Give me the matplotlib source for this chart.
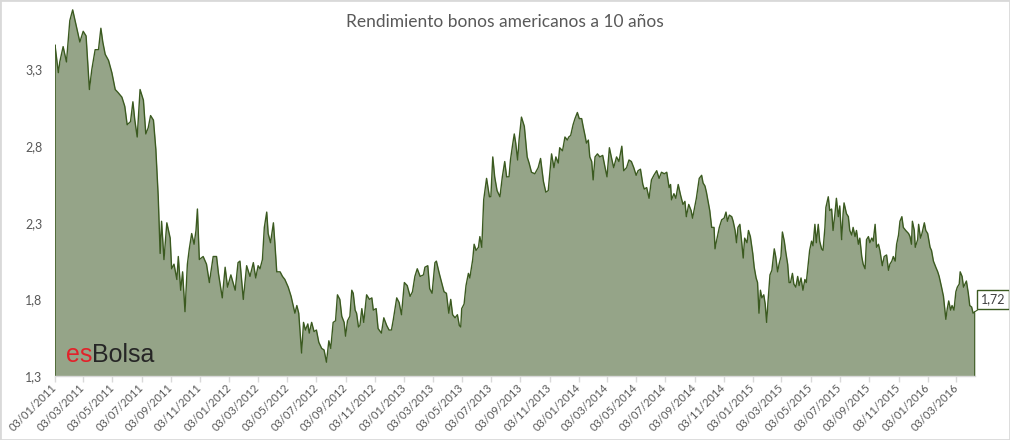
import matplotlib
matplotlib.use("Agg")
import matplotlib.pyplot as plt
import matplotlib.dates as mdates
from matplotlib.patches import Rectangle
import pandas as pd
import numpy as np

# ---- data ----
start_date = "2011-01-03"
day_offsets = [
    0, 7, 10, 17, 24, 31, 37, 42, 45, 52, 59, 65, 72, 77, 84, 91, 96, 100, 105, 112,
    119, 126, 132, 140, 146, 151, 158, 163, 167, 172, 178, 185, 190, 195, 200, 206, 211, 216, 220, 223,
    228, 234, 241, 244, 249, 255, 258, 263, 267, 272, 277, 281, 286, 291, 295, 298, 302, 310, 317, 323,
    331, 338, 342, 345, 350, 356, 361, 368, 377, 383, 387, 394, 401, 408, 415, 420, 425, 429, 434, 438,
    443, 446, 451, 457, 460, 464, 471, 476, 481, 488, 494, 499, 502, 506, 510, 516, 520, 524, 529, 532,
    537, 542, 547, 552, 558, 563, 568, 573, 577, 582, 587, 591, 596, 600, 605, 608, 612, 617, 621, 624,
    628, 631, 635, 638,
    642, 646, 652, 658, 663, 666, 672, 676, 683, 688, 694, 699, 704, 708, 711, 715, 720, 725, 731, 737,
    743, 748, 753, 758, 764, 771, 774, 780, 784, 789, 795, 798, 804, 809, 814, 819, 824, 828, 832, 837,
    842, 846, 849, 851, 856, 860, 865, 868, 874, 877, 881, 886, 889, 893, 897, 903, 909, 912, 916, 920,
    925, 931, 936, 941, 945, 950, 953, 958, 961, 964, 968, 971,
    976, 982, 988, 992, 997, 1004, 1011, 1016, 1022, 1027, 1032, 1039, 1044, 1048, 1053, 1056, 1062, 1067, 1072, 1075,
    1079, 1084, 1088, 1093, 1097, 1102, 1105, 1109, 1112, 1116, 1119, 1123, 1126, 1130, 1135, 1140, 1146, 1151, 1155, 1160,
    1164, 1169, 1175, 1180, 1186, 1190, 1196, 1201, 1206, 1211, 1216, 1220, 1225, 1230, 1233, 1238, 1243, 1248, 1253, 1259,
    1264, 1269, 1275, 1280, 1285,
    1288, 1290, 1295, 1299, 1304, 1309, 1314, 1318, 1321, 1326, 1331, 1334, 1339, 1342, 1348, 1353, 1356, 1360, 1363, 1367,
    1370, 1374, 1379, 1381, 1384, 1390, 1395, 1400, 1404, 1407, 1411, 1416, 1419, 1423, 1426, 1429, 1433, 1437, 1440, 1443,
    1448, 1451, 1455, 1460, 1463, 1467, 1470, 1473, 1476, 1479, 1483, 1486, 1489, 1492, 1496, 1500, 1505, 1508, 1512, 1515,
    1519, 1522, 1526, 1529, 1533, 1536, 1539, 1543, 1546, 1550, 1554, 1557, 1561, 1565, 1569, 1572, 1576, 1579, 1583, 1586,
    1590, 1593, 1597, 1600, 1604, 1607, 1611, 1613, 1618,
    1621, 1625, 1628, 1632, 1635, 1639, 1642, 1646, 1649, 1651, 1656, 1660, 1663, 1667, 1670, 1674, 1677, 1681, 1684, 1688,
    1691, 1695, 1698, 1702, 1705, 1709, 1712, 1716, 1719, 1723, 1726, 1731, 1735, 1740, 1744, 1747, 1751, 1754, 1758, 1761,
    1765, 1768, 1772, 1775, 1780, 1786, 1789, 1792, 1794, 1798, 1800, 1805, 1807, 1811, 1814, 1819, 1822, 1826, 1831, 1834,
    1838, 1843, 1847, 1850, 1855, 1859, 1862, 1864, 1867, 1870, 1874, 1877, 1881, 1885, 1888, 1892, 1894, 1898, 1901, 1904,
    1907, 1911, 1914, 1918, 1921, 1925,
]
yields = [
    3.46, 3.28, 3.35, 3.45, 3.35, 3.62, 3.69, 3.62, 3.58, 3.48, 3.55, 3.52, 3.17, 3.30, 3.43, 3.43, 3.57, 3.48, 3.40, 3.36,
    3.28, 3.17, 3.15, 3.12, 3.06, 2.94, 2.96, 3.09, 2.97, 2.86, 3.17, 3.10, 2.88, 2.92, 3.00, 2.97, 2.78, 2.47, 2.10, 2.31,
    2.06, 2.30, 2.20, 2.00, 2.03, 1.93, 2.08, 1.86, 1.98, 1.72, 2.03, 2.13, 2.23, 2.16, 2.25, 2.39, 2.06, 2.08, 2.03, 1.91,
    2.08, 2.08, 1.97, 1.91, 1.81, 2.01, 1.88, 1.96, 1.86, 2.04, 2.05, 1.80, 2.02, 1.95, 2.04, 1.94, 2.02, 2.00, 2.06, 2.27,
    2.37, 2.23, 2.17, 2.30, 2.17, 1.98, 1.98, 1.95, 1.93, 1.88, 1.82, 1.75, 1.71, 1.76, 1.71, 1.45, 1.65, 1.60, 1.64, 1.58,
    1.65, 1.59, 1.60, 1.52, 1.48, 1.47, 1.39, 1.53, 1.48, 1.65, 1.66, 1.83, 1.80, 1.69, 1.65, 1.56, 1.66, 1.69, 1.86, 1.84,
    1.73, 1.71, 1.62, 1.63,
    1.74, 1.65, 1.83, 1.80, 1.81, 1.73, 1.74, 1.61, 1.58, 1.68, 1.63, 1.60, 1.60, 1.67, 1.73, 1.81, 1.78, 1.70, 1.91, 1.89,
    1.82, 1.85, 1.95, 2.00, 1.95, 1.96, 2.01, 2.02, 1.87, 1.84, 2.04, 2.05, 1.97, 1.91, 1.85, 1.84, 1.71, 1.80, 1.70, 1.68,
    1.70, 1.63, 1.62, 1.74, 1.77, 1.89, 1.97, 1.94, 2.06, 2.16, 2.12, 2.14, 2.21, 2.14, 2.45, 2.59, 2.47, 2.47, 2.73, 2.60,
    2.51, 2.47, 2.60, 2.70, 2.60, 2.60, 2.71, 2.82, 2.88, 2.82, 2.71, 2.84,
    2.99, 2.93, 2.73, 2.69, 2.63, 2.62, 2.66, 2.72, 2.57, 2.50, 2.51, 2.75, 2.66, 2.73, 2.69, 2.79, 2.77, 2.86, 2.84, 2.86,
    2.87, 2.94, 2.98, 3.02, 2.98, 2.98, 2.93, 2.87, 2.82, 2.84, 2.73, 2.70, 2.58, 2.73, 2.75, 2.73, 2.74, 2.66, 2.60, 2.79,
    2.73, 2.66, 2.73, 2.70, 2.80, 2.64, 2.66, 2.71, 2.70, 2.66, 2.61, 2.64, 2.65, 2.55, 2.52, 2.53, 2.46, 2.58, 2.61, 2.64,
    2.59, 2.63, 2.62, 2.63, 2.53,
    2.55, 2.45, 2.49, 2.46, 2.55, 2.48, 2.42, 2.44, 2.34, 2.42, 2.38, 2.33, 2.41, 2.46, 2.59, 2.61, 2.56, 2.54, 2.50, 2.43,
    2.38, 2.27, 2.27, 2.13, 2.18, 2.27, 2.32, 2.33, 2.37, 2.31, 2.35, 2.34, 2.31, 2.25, 2.17, 2.27, 2.29, 2.17, 2.07, 2.20,
    2.17, 2.25, 2.21, 2.10, 2.01, 1.94, 1.91, 1.71, 1.86, 1.81, 1.83, 1.77, 1.65, 1.79, 1.96, 1.99, 2.13, 2.08, 1.98, 2.03,
    2.08, 2.24, 2.18, 2.11, 2.03, 1.91, 1.91, 1.97, 1.90, 1.88, 1.95, 1.89, 1.94, 1.86, 1.93, 1.91, 2.03, 2.12, 2.18, 2.15,
    2.29, 2.17, 2.29, 2.18, 2.13, 2.12, 2.27, 2.40, 2.47,
    2.38, 2.39, 2.25, 2.36, 2.46, 2.34, 2.41, 2.19, 2.36, 2.43, 2.36, 2.34, 2.25, 2.22, 2.27, 2.21, 2.25, 2.16, 2.20, 2.08,
    2.03, 2.00, 2.19, 2.21, 2.17, 2.20, 2.18, 2.29, 2.14, 2.16, 2.12, 2.02, 2.08, 2.09, 1.99, 2.03, 2.05, 2.08, 2.05, 2.16,
    2.22, 2.31, 2.34, 2.27, 2.25, 2.23, 2.21, 2.16, 2.31, 2.25, 2.14, 2.19, 2.29, 2.20, 2.23, 2.30, 2.25, 2.23, 2.14, 2.12,
    2.05, 2.01, 1.98, 1.95, 1.88, 1.82, 1.73, 1.67, 1.74, 1.79, 1.73, 1.76, 1.73, 1.85, 1.88, 1.90, 1.98, 1.95, 1.88, 1.90,
    1.92, 1.84, 1.76, 1.75, 1.71, 1.72,
]
last_label = "1,72"
y_ticks = [1.3, 1.8, 2.3, 2.8, 3.3]
y_tick_labels = ["1,3", "1,8", "2,3", "2,8", "3,3"]
x_tick_dates = pd.date_range("2011-01-01", "2016-03-01", freq="2MS") + pd.Timedelta(days=2)
x_tick_labels = [d.strftime("%d/%m/%Y") for d in x_tick_dates]
title = "Rendimiento bonos americanos a 10 años"

# ---- styling ----
FILL = "#95a488"
LINE = "#3b5a20"
TXT = "#595959"
GRID = "#d9d9d9"

plt.rcParams["font.family"] = ["Lato", "DejaVu Sans"]

dates = pd.Timestamp(start_date) + pd.to_timedelta(day_offsets, unit="D")
vals = np.array(yields)

W, H = 1010, 440
fig = plt.figure(figsize=(W / 100, H / 100), dpi=100)
fig.patch.set_facecolor("white")
ax = fig.add_axes([55 / W, 64 / H, 920 / W, 376 / H])
ax.set_facecolor("none")

ymin = 1.3
ymax = 1.3 + 376 / 153.2
ax.fill_between(dates, vals, ymin, color=FILL, lw=0, zorder=2)
ax.plot(dates, vals, color=LINE, lw=1.0, zorder=3)
ax.vlines([dates[0], dates[-1]], ymin, [vals[0], vals[-1]], color=LINE, lw=1.2, zorder=3)

ax.set_xlim(dates[0], dates[-1])
ax.set_ylim(ymin, ymax)

for s in ["top", "right", "left"]:
    ax.spines[s].set_visible(False)
ax.spines["bottom"].set_color(GRID)
ax.spines["bottom"].set_linewidth(1.0)
ax.spines["bottom"].set_zorder(4)

ax.set_yticks(y_ticks)
ax.set_yticklabels(y_tick_labels)
ax.tick_params(axis="y", length=0, pad=9, labelsize=9, labelcolor=TXT)

ax.set_xticks(x_tick_dates)
ax.set_xticklabels(x_tick_labels, rotation=45, ha="right", va="center", rotation_mode="anchor")
ax.tick_params(axis="x", length=4, width=1, color=GRID, pad=3, labelsize=8, labelcolor=TXT, direction="out")

# title
fig.text(0.5, 1 - 22 / H, title, ha="center", va="center", fontsize=12.5, color=TXT)

# logo
t_es = fig.text(66 / W, (H - 367) / H, "es", fontsize=18, color="#e2222a",
                family=["Liberation Sans", "DejaVu Sans"], va="bottom", ha="left", zorder=5)
ax.annotate("Bolsa", xy=(1, 0), xycoords=t_es, va="bottom", ha="left", fontsize=18,
            color="#262626", family=["Liberation Sans", "DejaVu Sans"], zorder=5, annotation_clip=False)

# last value label
ax.annotate(last_label, xy=(dates[-1], vals[-1]), xytext=(18, 12), textcoords="offset pixels",
            ha="center", va="center", fontsize=9, color="#404040", annotation_clip=False,
            bbox=dict(boxstyle="square,pad=0.3", fc="white", ec=LINE, lw=1),
            arrowprops=dict(arrowstyle="-", color=LINE, lw=0.8, shrinkA=0, shrinkB=0))

fig.patches.append(Rectangle((0, 0), 1, 1, transform=fig.transFigure, fill=False,
                             ec=GRID, lw=2, zorder=10))

fig.savefig("out.png", dpi=100)
